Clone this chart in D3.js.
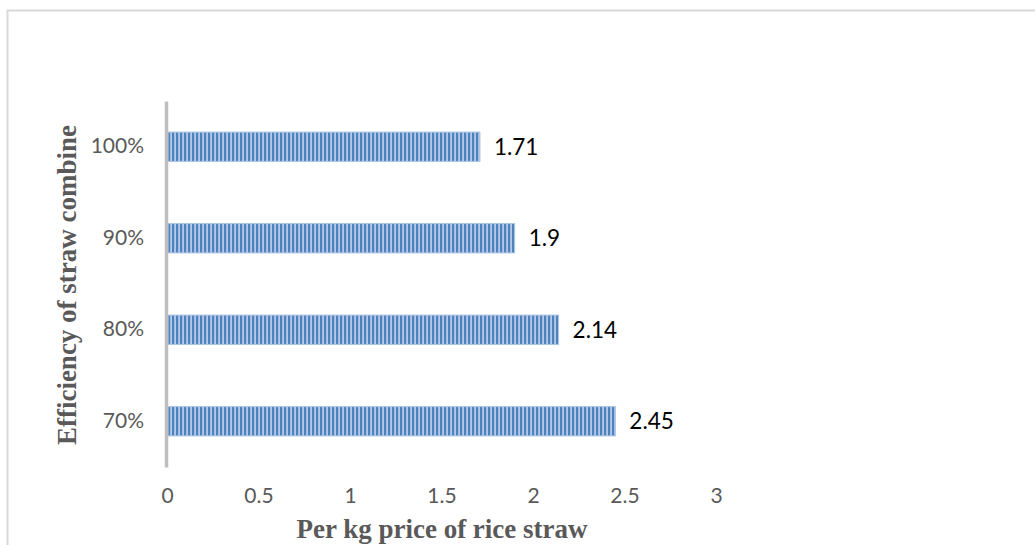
<!DOCTYPE html>
<html>
<head>
<meta charset="utf-8">
<script src="https://cdn.jsdelivr.net/npm/d3@7"></script>
<style>
  body { margin: 0; background: #fff; }
  .tick text { font-family: Lato, "Open Sans", sans-serif; }
</style>
</head>
<body>
<div id="chart"></div>
<script>
// efficiency levels and per kg price
var categories = ["70%", "80%", "90%", "100%"];
var prices = [2.45, 2.14, 1.9, 1.71];
var xTicks = [0, 0.5, 1, 1.5, 2, 2.5, 3];

var svgWidth = 1035;
var svgHeight = 545;

var svg = d3.select("#chart")
  .append("svg")
  .attr("width", svgWidth)
  .attr("height", svgHeight);

// outer frame
svg.append("path")
  .attr("d", "M7.5,545 L7.5,10.5 L1035,10.5")
  .attr("fill", "none")
  .attr("stroke", "#d9d9d9")
  .attr("stroke-width", 2);

// striped fill like the original
var defs = svg.append("defs");
var pat = defs.append("pattern")
  .attr("id", "stripes")
  .attr("patternUnits", "userSpaceOnUse")
  .attr("width", 4)
  .attr("height", 10);
pat.append("rect").attr("width", 4).attr("height", 10).attr("fill", "#b3cbea");
pat.append("rect").attr("width", 2.2).attr("height", 10).attr("fill", "#4f81bd");

var xScale = d3.scaleLinear().domain([0, 3]).range([167, 716]);
var yScale = d3.scaleBand()
  .domain(categories.slice().reverse())
  .range([101, 467])
  .paddingInner(0.68)
  .paddingOuter(0.34);

// bars
svg.selectAll(".bar")
  .data(categories)
  .enter()
  .append("rect")
  .attr("class", "bar")
  .attr("x", xScale(0) + 1)
  .attr("y", d => yScale(d))
  .attr("width", (d, i) => xScale(prices[i]) - xScale(0) - 1)
  .attr("height", yScale.bandwidth())
  .attr("fill", "url(#stripes)")
  .attr("stroke", "#a9c2e4")
  .attr("stroke-width", 1);

// value labels
svg.selectAll(".lbl")
  .data(categories)
  .enter()
  .append("text")
  .attr("class", "lbl")
  .attr("x", (d, i) => xScale(prices[i]) + 14)
  .attr("y", d => yScale(d) + yScale.bandwidth() / 2)
  .attr("dy", "0.36em")
  .attr("font-family", "Lato, 'Open Sans', sans-serif")
  .attr("font-size", "22.5px")
  .attr("fill", "#000")
  .text((d, i) => prices[i]);

// y axis
var yAxis = svg.append("g")
  .attr("transform", "translate(166,0)")
  .call(d3.axisLeft(yScale).tickSize(0).tickPadding(22));
yAxis.select(".domain").attr("stroke", "#bfbfbf").attr("stroke-width", 3.5);
yAxis.selectAll("text").attr("font-size", "21px").attr("fill", "#595959");

// x axis (labels only)
var xAxis = svg.append("g")
  .attr("transform", "translate(0,486)")
  .call(d3.axisBottom(xScale).tickValues(xTicks).tickFormat(d3.format("")).tickSize(0).tickPadding(2));
xAxis.select(".domain").remove();
xAxis.selectAll("text").attr("font-size", "21px").attr("fill", "#595959");

// axis titles
svg.append("text")
  .attr("x", 442)
  .attr("y", 538)
  .attr("text-anchor", "middle")
  .attr("font-family", "'Liberation Serif', 'Times New Roman', serif")
  .attr("font-weight", "bold")
  .attr("font-size", "27px")
  .attr("fill", "#595959")
  .text("Per kg price of rice straw");

svg.append("text")
  .attr("transform", "translate(76,285) rotate(-90)")
  .attr("text-anchor", "middle")
  .attr("font-family", "'Liberation Serif', 'Times New Roman', serif")
  .attr("font-weight", "bold")
  .attr("font-size", "27px")
  .attr("fill", "#595959")
  .text("Efficiency of straw combine");
</script>
</body>
</html>
